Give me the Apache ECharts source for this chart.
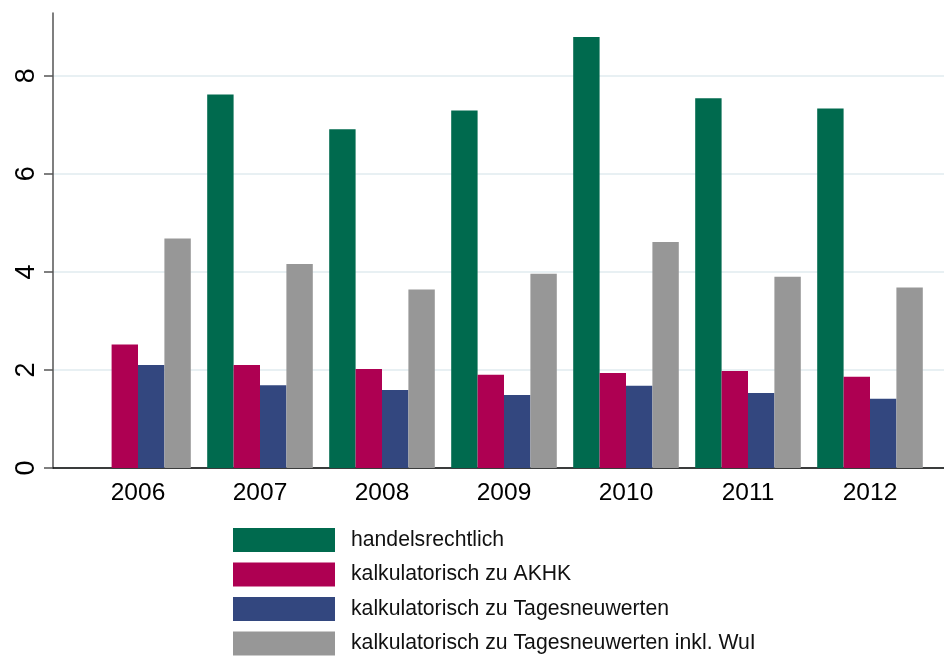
<!DOCTYPE html>
<html>
<head>
<meta charset="utf-8">
<script src="https://cdn.jsdelivr.net/npm/echarts@6/dist/echarts.min.js"></script>
<style>
  html, body { margin: 0; padding: 0; background: #ffffff; }
  #chart { width: 944px; height: 656px; }
</style>
</head>
<body>
<div id="chart"></div>
<script>
// Jahre
const years = ["2006", "2007", "2008", "2009", "2010", "2011", "2012"];
// handelsrechtlich (2006 fehlt)
const handelsrechtlich = [null, 7.62, 6.91, 7.29, 8.79, 7.54, 7.33];
// kalkulatorisch zu AKHK
const akhk = [2.52, 2.10, 2.02, 1.90, 1.94, 1.98, 1.86];
// kalkulatorisch zu Tagesneuwerten
const tagesneuwerten = [2.10, 1.69, 1.59, 1.49, 1.68, 1.53, 1.41];
// kalkulatorisch zu Tagesneuwerten inkl. WuI
const tagesneuwertenWul = [4.68, 4.16, 3.64, 3.96, 4.61, 3.90, 3.68];
const yTicks = [0, 2, 4, 6, 8];

const yMax = 9.28;
const font = "Liberation Sans";

let myChart = echarts.init(document.getElementById("chart"));

function barSeries(name, color, data) {
  return {
    name: name,
    type: "bar",
    xAxisIndex: 1,
    yAxisIndex: 1,
    barWidth: 26.4,
    barGap: "0%",
    itemStyle: { color: color },
    data: data,
  };
}

let option = {
  backgroundColor: "#ffffff",
  animation: false,
  grid: [
    // Achsenrahmen (volle Breite)
    { left: 53, right: 0, top: 13, bottom: 188 },
    // Balken
    { left: 77, right: 13, top: 13, bottom: 188 },
  ],
  xAxis: [
    {
      gridIndex: 0,
      type: "value",
      min: 0,
      max: 1,
      axisLine: { show: true, lineStyle: { color: "#000000", width: 1.5 } },
      axisTick: { show: false },
      axisLabel: { show: false },
      splitLine: { show: false },
    },
    {
      gridIndex: 1,
      type: "category",
      data: years,
      axisLine: { show: false },
      axisTick: { show: false },
      axisLabel: {
        fontFamily: font,
        fontSize: 24.5,
        color: "#000000",
        margin: 13,
      },
    },
  ],
  yAxis: [
    {
      gridIndex: 0,
      type: "value",
      min: 0,
      max: yMax,
      axisLine: { show: true, lineStyle: { color: "#555555", width: 1.5 } },
      axisTick: {
        show: true,
        length: 9,
        customValues: yTicks,
        lineStyle: { color: "#555555", width: 1.5 },
      },
      axisLabel: {
        customValues: yTicks,
        rotate: 90,
        fontFamily: font,
        fontSize: 27,
        color: "#000000",
        margin: 13,
      },
      splitLine: {
        show: true,
        lineStyle: { color: "#e8f0f3", width: 2 },
      },
    },
    {
      gridIndex: 1,
      type: "value",
      min: 0,
      max: yMax,
      show: false,
      splitLine: { show: false },
    },
  ],
  legend: {
    orient: "vertical",
    left: 233,
    top: 528,
    padding: 0,
    itemWidth: 102,
    itemHeight: 24,
    itemGap: 10.5,
    icon: "rect",
    selectedMode: false,
    textStyle: {
      fontFamily: font,
      fontSize: 21.2,
      color: "#111111",
      padding: [0, 0, 0, 11],
    },
    data: [
      "handelsrechtlich",
      "kalkulatorisch zu AKHK",
      "kalkulatorisch zu Tagesneuwerten",
      "kalkulatorisch zu Tagesneuwerten inkl. WuI",
    ],
  },
  series: [
    barSeries("handelsrechtlich", "#006a4e", handelsrechtlich),
    barSeries("kalkulatorisch zu AKHK", "#ae0052", akhk),
    barSeries("kalkulatorisch zu Tagesneuwerten", "#33477f", tagesneuwerten),
    barSeries("kalkulatorisch zu Tagesneuwerten inkl. WuI", "#979797", tagesneuwertenWul),
  ],
};
myChart.setOption(option);
</script>
</body>
</html>
